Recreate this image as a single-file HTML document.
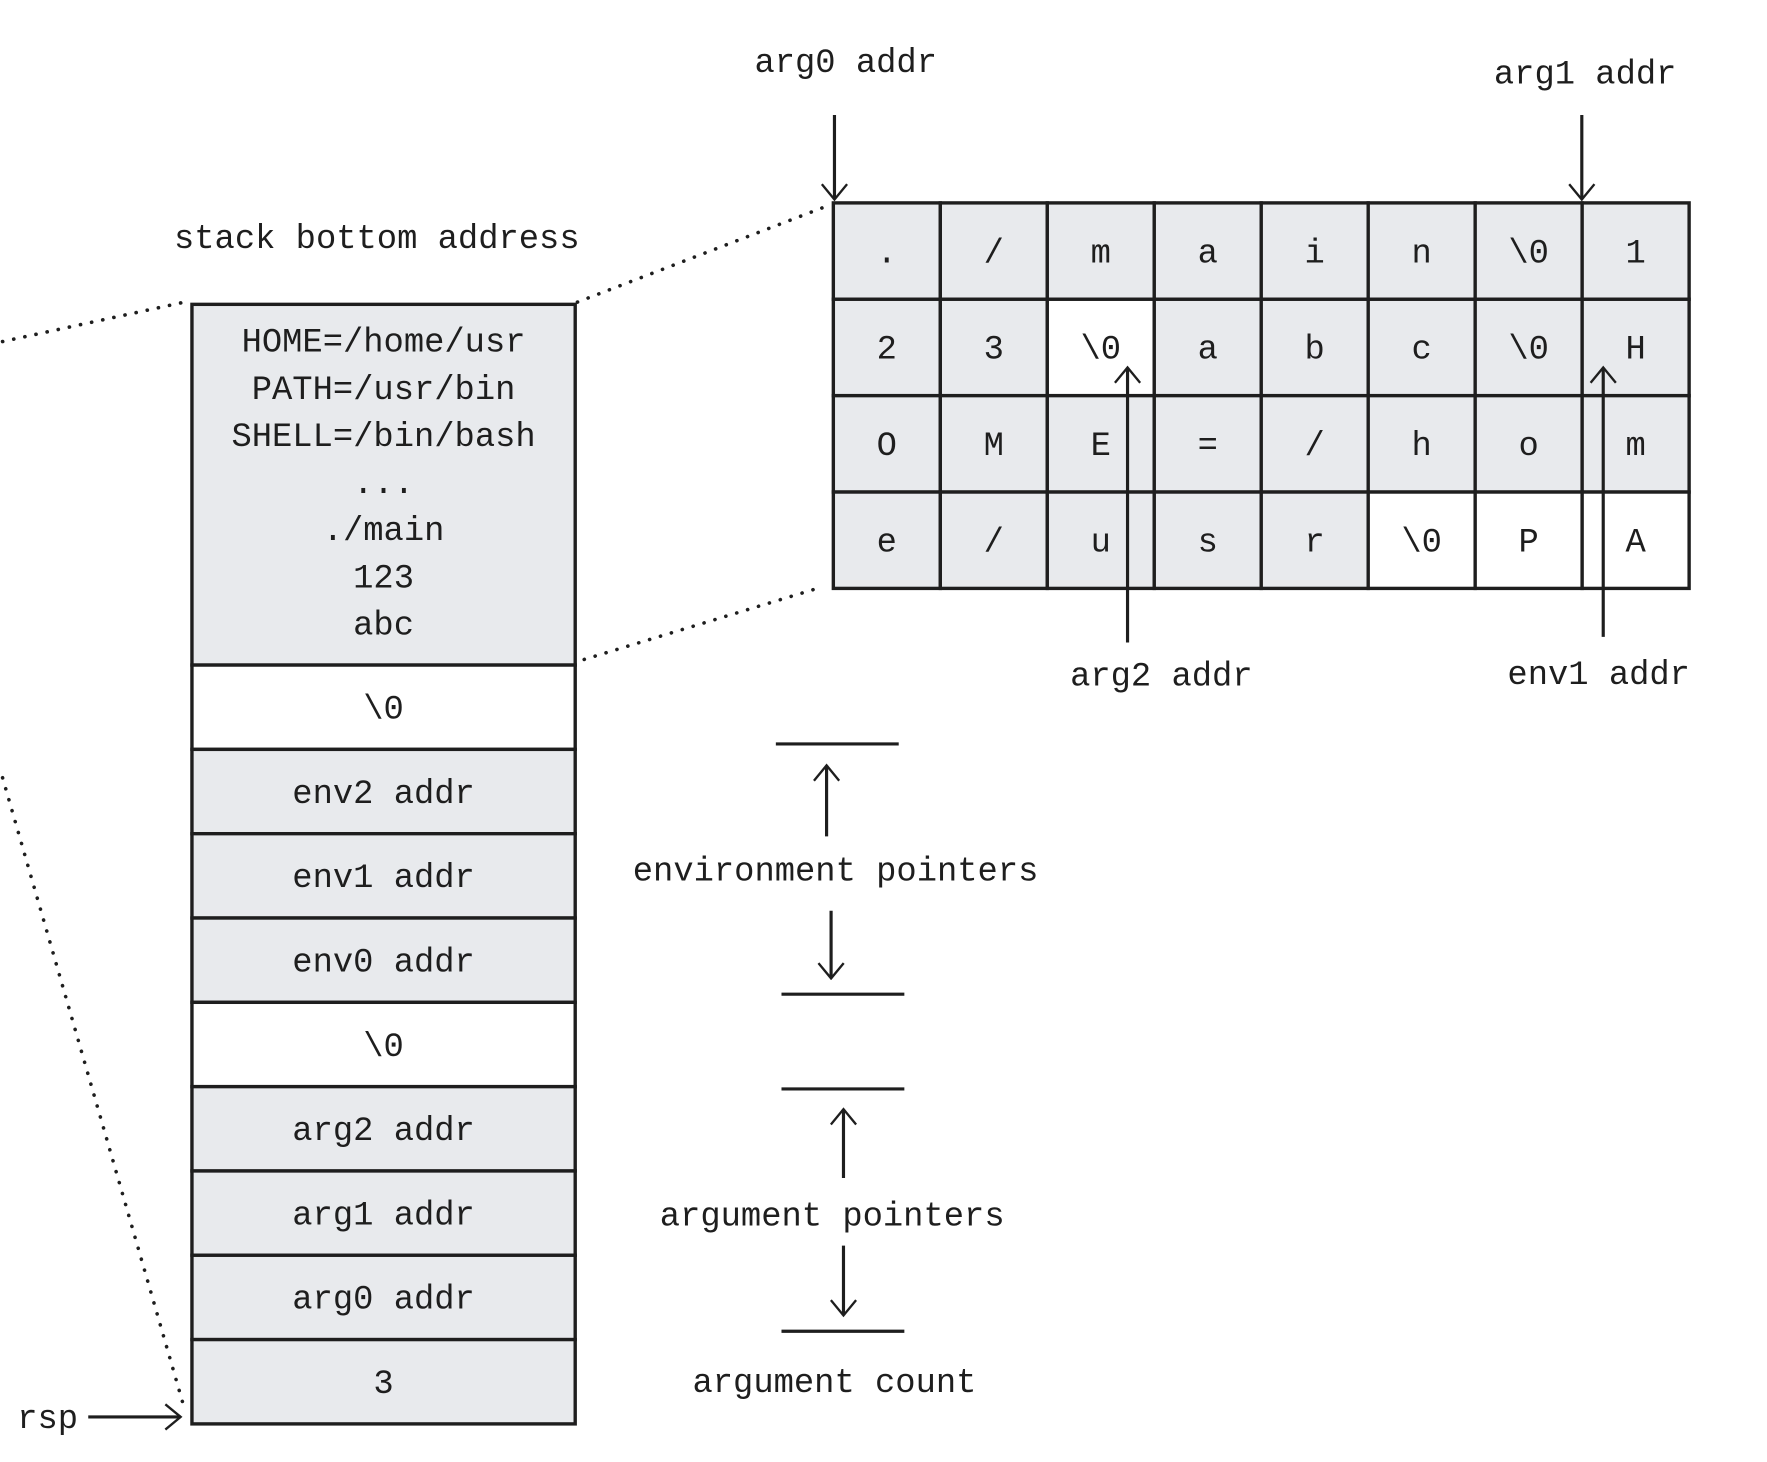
<!DOCTYPE html>
<html><head><meta charset="utf-8"><style>
html,body{margin:0;padding:0;background:#fff}
svg{display:block}
text{font-family:"Liberation Mono","DejaVu Sans Mono",monospace;fill:#1e1e1e}
</style></head><body>
<svg id="s" width="1767" height="1462" viewBox="0 0 1567 1297">
<defs><marker id="ah" viewBox="0 0 20 30" refX="18" refY="15" markerWidth="16" markerHeight="24" orient="auto" markerUnits="userSpaceOnUse"><path d="M1,1 L18,15 L1,29" fill="none" stroke="#1e1e1e" stroke-width="2.6"/></marker></defs>
<g id="dots" stroke="#1e1e1e" stroke-width="3.2" stroke-dasharray="0.1 10" stroke-linecap="round" fill="none">
<line x1="2" y1="303" x2="168" y2="267"/>
<line x1="512" y1="268" x2="738" y2="181"/>
<line x1="518" y1="585" x2="728" y2="521"/>
<line x1="2" y1="690" x2="162" y2="1245"/>
</g>
<g id="stack"></g>
<g id="grid"></g>
<g id="ann" stroke="#1e1e1e" stroke-width="2.8" fill="none">
<line x1="740" y1="102" x2="740" y2="177" marker-end="url(#ah)"/>
<line x1="1403" y1="102" x2="1403" y2="177" marker-end="url(#ah)"/>
<line x1="1000" y1="570" x2="1000" y2="326" marker-end="url(#ah)"/>
<line x1="1422" y1="565" x2="1422" y2="326" marker-end="url(#ah)"/>
<line x1="688" y1="660" x2="797" y2="660"/>
<line x1="733" y1="742" x2="733" y2="679" marker-end="url(#ah)"/>
<line x1="737" y1="808" x2="737" y2="868" marker-end="url(#ah)"/>
<line x1="693" y1="882" x2="802" y2="882"/>
<line x1="693" y1="966" x2="802" y2="966"/>
<line x1="748" y1="1045" x2="748" y2="984" marker-end="url(#ah)"/>
<line x1="748" y1="1105" x2="748" y2="1167" marker-end="url(#ah)"/>
<line x1="693" y1="1181" x2="802" y2="1181"/>
<line x1="78" y1="1257" x2="160" y2="1257" marker-end="url(#ah)"/>
</g>
<g font-size="30" text-anchor="middle">
<text x="334" y="220">stack bottom address</text>
<text x="750" y="64">arg0 addr</text>
<text x="1406" y="74">arg1 addr</text>
<text x="1030" y="608">arg2 addr</text>
<text x="1418" y="607">env1 addr</text>
<text x="741" y="781">environment pointers</text>
<text x="738" y="1087">argument pointers</text>
<text x="740" y="1235">argument count</text>
<text x="42" y="1267">rsp</text>
</g>
</svg>
<script>
const NS="http://www.w3.org/2000/svg";
const topLines=["HOME=/home/usr","PATH=/usr/bin","SHELL=/bin/bash","...","./main","123","abc"];
const slotLabels=["\\0","env2 addr","env1 addr","env0 addr","\\0","arg2 addr","arg1 addr","arg0 addr","3"];
const slotWhite=[1,0,0,0,1,0,0,0,0];
const gridChars=[".","/","m","a","i","n","\\0","1","2","3","\\0","a","b","c","\\0","H","O","M","E","=","/","h","o","m","e","/","u","s","r","\\0","P","A"];
const gridWhite=[0,0,0,0,0,0,0,0,0,0,1,0,0,0,0,0,0,0,0,0,0,0,0,0,0,0,0,0,0,1,1,1];
function mk(t,a,p){const e=document.createElementNS(NS,t);for(const k in a)e.setAttribute(k,a[k]);p.appendChild(e);return e;}
const st=document.getElementById('stack');
const SX=170,SW=340,TOP=270,TOPH=320,SH=74.8;
let r=mk('rect',{x:SX,y:TOP,width:SW,height:TOPH,fill:'#e8eaed',stroke:'#1e1e1e','stroke-width':3},st);


topLines.forEach((s,i)=>{const t=mk('text',{x:SX+SW/2,y:TOP+42+i*41.8,'font-size':30,'text-anchor':'middle'},st);t.textContent=s;

});
slotLabels.forEach((s,i)=>{const y=TOP+TOPH+i*SH;
const g=mk('g',{},st);


mk('rect',{x:SX,y:y,width:SW,height:SH,fill:slotWhite[i]?'#fff':'#e8eaed',stroke:'#1e1e1e','stroke-width':3},g);
const t=mk('text',{x:SX+SW/2,y:y+SH/2+10,'font-size':30,'text-anchor':'middle'},g);t.textContent=s;});
const gr=document.getElementById('grid');
const GX=739,GY=180,CW=94.9,CH=85.5;
gridChars.forEach((c,i)=>{const col=i%8,row=Math.floor(i/8);const x=GX+col*CW,y=GY+row*CH;
const g=mk('g',{},gr);


mk('rect',{x:x,y:y,width:CW,height:CH,fill:gridWhite[i]?'#fff':'#e8eaed',stroke:'#1e1e1e','stroke-width':3},g);
const t=mk('text',{x:x+CW/2,y:y+CH/2+10,'font-size':30,'text-anchor':'middle'},g);t.textContent=c;});
</script>
</body></html>
